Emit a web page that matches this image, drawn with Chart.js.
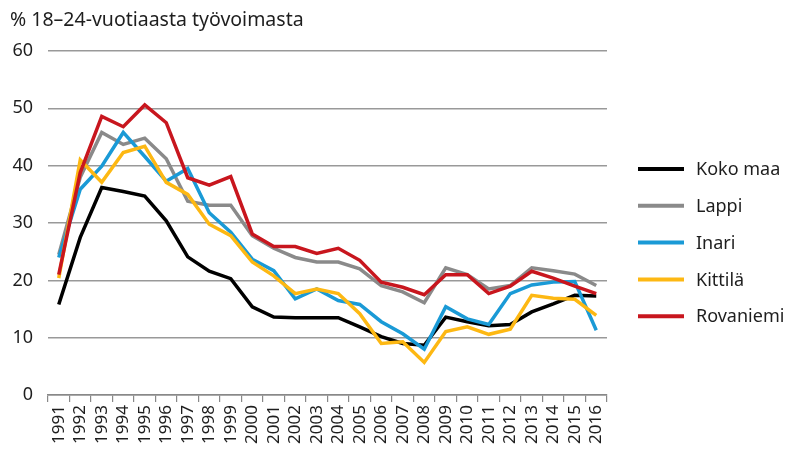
<!DOCTYPE html>
<html>
<head>
<meta charset="utf-8">
<script src="https://cdn.jsdelivr.net/npm/chart.js@4/dist/chart.umd.min.js"></script>
<style>
  html, body { margin: 0; padding: 0; background: #fff; }
  #wrap { width: 788px; height: 453px; }
</style>
</head>
<body>
<div id="wrap"><canvas id="chart" width="788" height="453"></canvas></div>
<script>
const years = ["1991", "1992", "1993", "1994", "1995", "1996", "1997", "1998", "1999", "2000",
  "2001", "2002", "2003", "2004", "2005", "2006", "2007", "2008", "2009", "2010",
  "2011", "2012", "2013", "2014", "2015", "2016"];

const kokoMaa = [15.8, 27.5, 36.2, 35.5, 34.7, 30.4, 24.1, 21.6, 20.3, 15.4, 13.6, 13.5, 13.5,
  13.5, 11.9, 10.2, 9.0, 8.7, 13.6, 12.8, 12.1, 12.3, 14.5, 15.9, 17.4, 17.3];
const lappi = [24.5, 38.0, 45.8, 43.7, 44.8, 41.2, 33.8, 33.1, 33.1, 27.8, 25.6, 24.0, 23.2,
  23.2, 22.0, 19.1, 18.0, 16.1, 22.2, 21.0, 18.5, 19.1, 22.2, 21.7, 21.1, 19.1];
const inari = [24.0, 35.9, 39.9, 45.8, 41.6, 37.3, 39.5, 31.8, 28.4, 23.7, 21.7, 16.8, 18.5,
  16.5, 15.8, 12.8, 10.7, 8.0, 15.4, 13.3, 12.3, 17.7, 19.2, 19.7, 19.8, 11.3];
const kittila = [20.4, 41.0, 37.1, 42.3, 43.4, 37.1, 35.0, 29.8, 27.8, 23.2, 20.8, 17.7, 18.5,
  17.7, 14.2, 9.0, 9.3, 5.7, 11.1, 11.9, 10.6, 11.5, 17.4, 16.9, 16.7, 13.9];
const rovaniemi = [21.0, 38.8, 48.6, 46.8, 50.6, 47.5, 37.9, 36.6, 38.1, 28.1, 25.9, 25.9, 24.7,
  25.6, 23.5, 19.7, 18.8, 17.5, 21.0, 21.0, 17.7, 19.0, 21.6, 20.4, 19.0, 17.7];

const yTicks = [0, 10, 20, 30, 40, 50, 60];

const FONT = "'Noto Sans', sans-serif";
const TEXT = "#1e1e1e";

function series(label, data, color, order) {
  return {
    label,
    data,
    borderColor: color,
    backgroundColor: color,
    borderWidth: 3.5,
    pointRadius: 0,
    tension: 0,
    fill: false,
    order,
  };
}

// legend drawn by hand so the rows sit where the reference has them
const sideLegend = {
  id: "sideLegend",
  afterDraw(chart) {
    const ctx = chart.ctx;
    ctx.save();
    ctx.font = `18px ${FONT}`;
    ctx.textBaseline = "middle";
    chart.data.datasets.forEach((ds, i) => {
      const y = 169 + i * 36.8;
      ctx.strokeStyle = ds.borderColor;
      ctx.lineWidth = 4;
      ctx.beginPath();
      ctx.moveTo(638, y);
      ctx.lineTo(684, y);
      ctx.stroke();
      ctx.fillStyle = TEXT;
      ctx.fillText(ds.label, 696, y + 1);
    });
    ctx.restore();
  },
};

new Chart(document.getElementById("chart"), {
  type: "line",
  data: {
    labels: years,
    datasets: [
      series("Koko maa", kokoMaa, "#000000", 5),
      series("Lappi", lappi, "#8a8a8a", 4),
      series("Inari", inari, "#1a9ad6", 3),
      series("Kittilä", kittila, "#fdb813", 2),
      series("Rovaniemi", rovaniemi, "#c8161e", 1),
    ],
  },
  options: {
    responsive: false,
    animation: false,
    layout: { padding: { left: 10, right: 181, top: 0, bottom: 6 } },
    plugins: {
      legend: { display: false },
      tooltip: { enabled: false },
      title: {
        display: true,
        text: "% 18–24-vuotiaasta työvoimasta",
        align: "start",
        color: TEXT,
        font: { family: FONT, size: 19.5, weight: "normal" },
        padding: { top: 9, bottom: 18.6 },
      },
    },
    scales: {
      x: {
        offset: true,
        grid: { offset: true, drawOnChartArea: false, tickLength: 7, color: "#888", lineWidth: 1.2 },
        border: { color: "#888", width: 1.5 },
        ticks: {
          color: TEXT,
          font: { family: FONT, size: 17 },
          maxRotation: 90,
          minRotation: 90,
          padding: 3,
          autoSkip: false,
        },
      },
      y: {
        min: yTicks[0],
        max: yTicks[yTicks.length - 1],
        afterBuildTicks: (axis) => {
          axis.ticks = yTicks.map((v) => ({ value: v }));
        },
        afterFit: (axis) => {
          axis.width = 38;
        },
        grid: { color: "#999", lineWidth: 1.5, drawTicks: false },
        border: { display: false },
        ticks: {
          color: TEXT,
          font: { family: FONT, size: 18 },
          padding: 15,
        },
      },
    },
  },
  plugins: [sideLegend],
});
</script>
</body>
</html>
